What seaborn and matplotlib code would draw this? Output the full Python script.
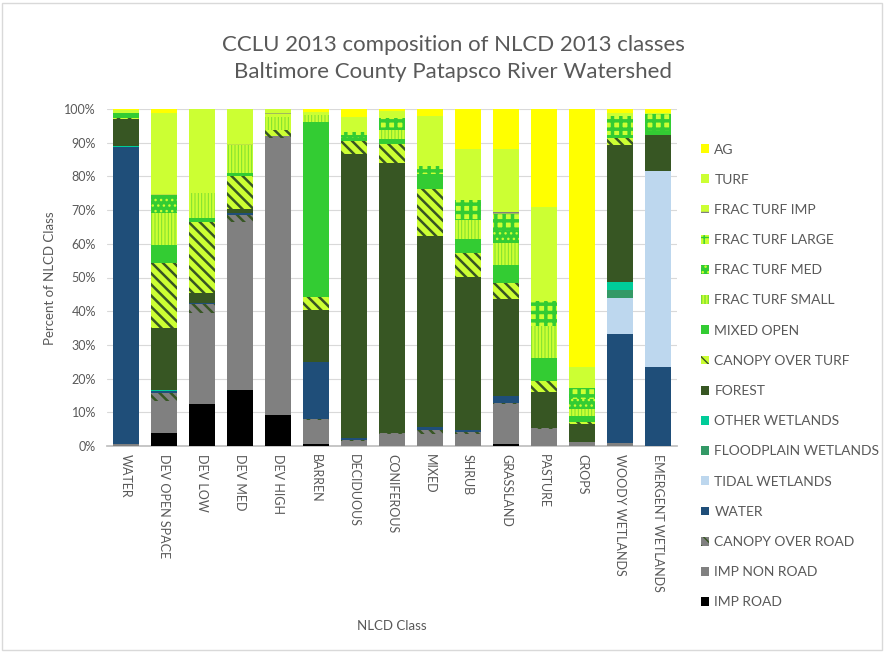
import matplotlib
matplotlib.use("Agg")
import matplotlib.pyplot as plt
import seaborn as sns
import numpy as np
from matplotlib.patches import Patch, Rectangle
from matplotlib.ticker import FuncFormatter

categories = ["WATER", "DEV OPEN SPACE", "DEV LOW", "DEV MED", "DEV HIGH", "BARREN",
              "DECIDUOUS", "CONIFEROUS", "MIXED", "SHRUB", "GRASSLAND", "PASTURE",
              "CROPS", "WOODY WETLANDS", "EMERGENT WETLANDS"]

# values in percent, one per category (bottom of the stack first)
imp_road        = [0.0, 4.0, 12.6, 16.7, 9.1, 0.7, 0.0, 0.0, 0.0, 0.0, 0.7, 0.0, 0.0, 0.0, 0.0]
imp_non_road    = [0.7, 9.3, 27.0, 49.8, 82.3, 7.0, 1.5, 3.7, 3.7, 3.7, 11.7, 4.9, 1.2, 0.9, 0.0]
canopy_road     = [0.0, 2.5, 2.5, 2.0, 0.7, 0.3, 0.3, 0.3, 1.0, 0.5, 0.3, 0.3, 0.0, 0.0, 0.0]
water           = [87.9, 0.5, 0.4, 0.5, 0.0, 17.0, 0.7, 0.0, 1.0, 0.5, 2.0, 0.0, 0.0, 32.2, 23.5]
tidal_wetlands  = [0.0, 0.0, 0.0, 0.0, 0.0, 0.0, 0.0, 0.0, 0.0, 0.0, 0.0, 0.0, 0.0, 10.7, 58.0]
floodplain_wet  = [0.0, 0.0, 0.0, 0.0, 0.0, 0.0, 0.0, 0.0, 0.0, 0.0, 0.0, 0.0, 0.0, 2.5, 0.0]
other_wetlands  = [0.3, 0.3, 0.0, 0.0, 0.0, 0.0, 0.0, 0.0, 0.0, 0.0, 0.0, 0.0, 0.0, 2.5, 0.0]
forest          = [8.0, 18.5, 3.0, 1.2, 0.0, 15.5, 84.1, 80.0, 56.7, 45.4, 28.9, 10.7, 5.2, 40.6, 10.9]
canopy_turf     = [0.5, 19.3, 21.0, 9.9, 1.8, 3.8, 4.0, 5.6, 13.9, 7.1, 4.8, 3.4, 0.8, 2.0, 0.0]
mixed_open      = [1.0, 5.3, 1.3, 0.8, 0.0, 51.7, 0.7, 1.5, 4.3, 4.2, 5.3, 6.7, 1.7, 1.0, 1.0]
frac_turf_small = [0.0, 9.4, 7.3, 8.4, 3.8, 2.3, 0.0, 2.8, 0.0, 5.7, 6.4, 9.6, 2.0, 0.0, 0.0]
frac_turf_med   = [0.5, 5.0, 0.0, 0.0, 0.0, 0.0, 1.0, 0.0, 0.0, 0.0, 3.7, 0.0, 3.1, 0.0, 0.0]
frac_turf_large = [0.0, 0.3, 0.0, 0.0, 0.0, 0.0, 1.0, 3.5, 2.5, 6.0, 5.0, 7.4, 3.1, 5.4, 5.0]
frac_turf_imp   = [0.0, 0.8, 1.0, 1.5, 1.0, 0.0, 0.0, 0.0, 0.3, 0.3, 0.7, 0.5, 0.0, 0.0, 0.0]
turf            = [0.8, 23.6, 23.9, 9.2, 1.3, 0.7, 4.3, 1.9, 14.6, 14.7, 18.6, 27.4, 6.2, 1.0, 0.4]
ag              = [0.3, 1.2, 0.0, 0.0, 0.0, 1.0, 2.4, 0.7, 2.0, 11.9, 11.9, 29.1, 76.7, 1.2, 1.2]

class_names = ["IMP ROAD", "IMP NON ROAD", "CANOPY OVER ROAD", "WATER", "TIDAL WETLANDS",
               "FLOODPLAIN WETLANDS", "OTHER WETLANDS", "FOREST", "CANOPY OVER TURF",
               "MIXED OPEN", "FRAC TURF SMALL", "FRAC TURF MED", "FRAC TURF LARGE",
               "FRAC TURF IMP", "TURF", "AG"]
series = [imp_road, imp_non_road, canopy_road, water, tidal_wetlands, floodplain_wet,
          other_wetlands, forest, canopy_turf, mixed_open, frac_turf_small, frac_turf_med,
          frac_turf_large, frac_turf_imp, turf, ag]

# style: (facecolor, hatch, hatchcolor, hatch linewidth)
styles = {
    "IMP ROAD": ("#000000", None, None, 1),
    "IMP NON ROAD": ("#808080", None, None, 1),
    "CANOPY OVER ROAD": ("#808080", "\\\\\\", "#375623", 1.8),
    "WATER": ("#1F4E79", None, None, 1),
    "TIDAL WETLANDS": ("#BDD7EE", None, None, 1),
    "FLOODPLAIN WETLANDS": ("#339966", None, None, 1),
    "OTHER WETLANDS": ("#00CC99", None, None, 1),
    "FOREST": ("#375623", None, None, 1),
    "CANOPY OVER TURF": ("#CCFF33", "\\\\\\", "#375623", 1.8),
    "MIXED OPEN": ("#33CC33", None, None, 1),
    "FRAC TURF SMALL": ("#CCFF33", "|||||", "#7CE030", 0.7),
    "FRAC TURF MED": ("#33CC33", "...", "#CCFF33", 1.0),
    "FRAC TURF LARGE": ("#CCFF33", "++", "#33CC33", 2.5),
    "FRAC TURF IMP": ("#CCFF33", "--", "#808080", 1.5),
    "TURF": ("#CCFF33", None, None, 1),
    "AG": ("#FFFF00", None, None, 1),
}

sns.set_theme(style="white")
plt.rcParams["font.family"] = ["Lato", "DejaVu Sans"]

fig = plt.figure(figsize=(8.85, 6.52), dpi=100)
ax = fig.add_axes([107 / 885, 1 - 446 / 652, 570 / 885, 337 / 652])

arr = np.array(series)
cum = np.cumsum(arr, axis=0)

# draw from top class down so each lower cumulative bar covers the one above
for i in range(len(class_names) - 1, -1, -1):
    name = class_names[i]
    fc, hatch, hc, hlw = styles[name]
    with plt.rc_context({"hatch.linewidth": hlw}):
        kws = dict(x=categories, y=cum[i], order=categories, color=fc, saturation=1,
                   width=0.68, linewidth=0, ax=ax, errorbar=None, zorder=3)
        if hatch:
            kws.update(hatch=hatch, edgecolor=hc)
        else:
            kws.update(edgecolor=fc)
        sns.barplot(**kws)

ax.set_ylim(0, 100)
ax.set_xlim(-0.5, len(categories) - 0.5)
ax.set_yticks(np.arange(0, 101, 10))
ax.yaxis.set_major_formatter(FuncFormatter(lambda v, p: f"{int(v)}%"))
ax.grid(axis="y", color="#D9D9D9", linewidth=0.8, zorder=0)
ax.set_axisbelow(True)
for s in ["top", "right", "left"]:
    ax.spines[s].set_visible(False)
ax.spines["bottom"].set_color("#BFBFBF")
ax.tick_params(axis="both", length=0, labelcolor="#595959", labelsize=9)
ax.tick_params(axis="y", pad=8)
ax.tick_params(axis="x", pad=6)
plt.setp(ax.get_xticklabels(), rotation=-90, ha="center", va="top")
ax.set_xlabel("NLCD Class", color="#595959", fontsize=9.5, labelpad=0)
ax.xaxis.set_label_coords((392 - 107) / 570, -(620 - 446) / 337)
ax.set_ylabel("Percent of NLCD Class", color="#595959", fontsize=9.5)
ax.yaxis.set_label_coords(-(107 - 56) / 570, (446 - 278) / 337)

fig.text(453 / 885, 1 - 45 / 652, "CCLU 2013 composition of NLCD 2013 classes",
         ha="center", va="center", fontsize=16, color="#595959")
fig.text(453 / 885, 1 - 72 / 652, "Baltimore County Patapsco River Watershed",
         ha="center", va="center", fontsize=16, color="#595959")

handles = []
for name in reversed(class_names):
    fc, hatch, hc, hlw = styles[name]
    if hatch:
        handles.append(Patch(facecolor=fc, hatch=hatch, edgecolor=hc, linewidth=0, label=name))
    else:
        handles.append(Patch(facecolor=fc, edgecolor=fc, linewidth=0, label=name))
leg = fig.legend(handles=handles, loc="upper left", bbox_to_anchor=(688 / 885, 1 - 131 / 652),
                 frameon=False, fontsize=10, labelcolor="#595959", handlelength=0.6,
                 handleheight=0.6, handletextpad=0.4, labelspacing=1.31)

fig.patches.append(Rectangle((0.002, 0.003), 0.995, 0.993, transform=fig.transFigure,
                             fill=False, edgecolor="#D9D9D9", linewidth=1))

fig.savefig("out.png", dpi=100)
